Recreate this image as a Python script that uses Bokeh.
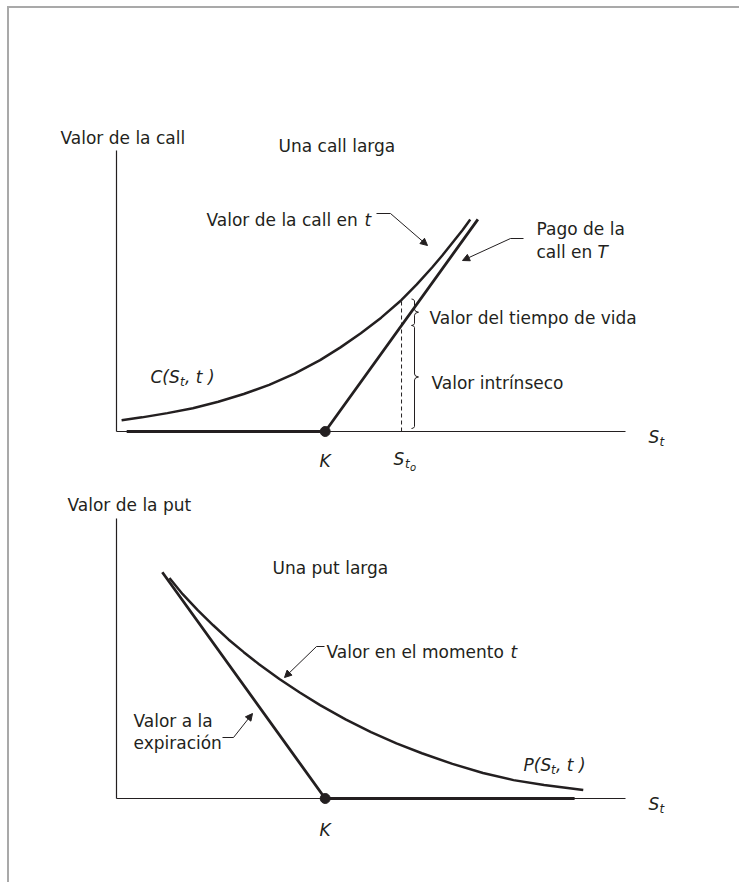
from bokeh.plotting import figure
from bokeh.models import Label, Arrow, NormalHead, LinearAxis, FixedTicker, Range1d
from bokeh.layouts import column
from bokeh.embed import file_html
from bokeh.resources import INLINE

# ---------------- data ----------------
K = 41            # strike
S_T0 = 56         # S_{t_o}
AXIS_X_END = 100
CALL_AXIS_TOP = 39.7
PUT_AXIS_TOP = 39.6

call_S = [1, 5, 10, 15, 20, 25, 30, 35, 40, 44, 48, 52, 56, 59, 62, 64, 66, 68, 69.5]
call_C = [1.6, 2.0, 2.6, 3.3, 4.2, 5.3, 6.6, 8.2, 10.1, 11.9, 13.9, 16.1, 18.6, 20.8,
          23.2, 24.9, 26.7, 28.5, 30.0]
call_pay_S = [2, 41, 71]
call_pay_V = [0, 0, 30]

put_S = [10.4, 13, 16, 19, 22, 25, 28, 32, 36, 40, 45, 50, 55, 60, 66, 72, 78, 84, 91.7]
put_P = [31.2, 28.9, 26.6, 24.5, 22.5, 20.7, 19.0, 16.9, 15.0, 13.2, 11.2, 9.4, 7.8, 6.4,
         4.9, 3.6, 2.6, 1.9, 1.2]
put_pay_S = [9, 41, 90]
put_pay_V = [32, 0, 0]

# ---------------- style / layout ----------------
INK = "#231f20"
FONT = "DejaVu Sans"
W = 730
H1, H2 = 470, 404
SX, SY = 5.09, 7.07        # px per data unit
X0 = 116                   # page x of S = 0
OX, OY = 9, 8              # page origin of the figures


def make_fig(top, height, y0):
    p = figure(width=W, height=height, output_backend="svg", toolbar_location=None,
               x_axis_location=None, y_axis_location=None, min_border=0,
               x_range=Range1d((OX - X0) / SX, (OX + W - X0) / SX),
               y_range=Range1d((y0 - (top + height)) / SY, (y0 - top) / SY),
               background_fill_color="white", border_fill_color="white",
               outline_line_color=None)
    p.grid.visible = False
    gx = lambda px: (px - X0) / SX
    gy = lambda py: (y0 - py) / SY
    return p, gx, gy


def axes(p, ytop):
    common = dict(fixed_location=0, ticker=FixedTicker(ticks=[]), axis_line_color=INK,
                  axis_line_width=1.2, major_tick_line_color=None,
                  minor_tick_line_color=None, major_label_text_font_size="0px")
    p.add_layout(LinearAxis(bounds=(0, AXIS_X_END), **common), "below")
    p.add_layout(LinearAxis(bounds=(0, ytop), **common), "left")


def txt(p, x, y, s, size=17, italic=False, align="left"):
    p.add_layout(Label(x=x, y=y, text=s, text_font=FONT, text_font_size=f"{size}px",
                       text_font_style="italic" if italic else "normal",
                       text_color=INK, text_align=align, text_baseline="alphabetic"))


def leader(p, gx, gy, hx0, hx1, hy, ax, ay):
    p.line([gx(hx0), gx(hx1)], [gy(hy), gy(hy)], line_color=INK, line_width=1)
    p.add_layout(Arrow(end=NormalHead(size=7, fill_color=INK, line_color=INK, line_width=1),
                       x_start=gx(hx1), y_start=gy(hy), x_end=gx(ax), y_end=gy(ay),
                       line_color=INK, line_width=1))


def brace(p, gx, gy, xpx, ytop, ybot):
    pt, pb = ytop, ybot
    pm = (pt + pb) / 2
    xs = [xpx - 3, xpx - 1, xpx, xpx, xpx + 1, xpx + 4, xpx + 1, xpx, xpx, xpx - 1, xpx - 3]
    ys = [pt, pt + 0.5, pt + 2, pm - 3, pm - 1, pm, pm + 1, pm + 3, pb - 2, pb - 0.5, pb]
    p.line([gx(v) for v in xs], [gy(v) for v in ys], line_color=INK, line_width=1)
    return pm


# ================= top: long call =================
Y0_TOP = 431
p1, gx1, gy1 = make_fig(OY, H1, Y0_TOP)
axes(p1, CALL_AXIS_TOP)
py1 = lambda v: Y0_TOP - v * SY   # data -> page y

p1.line(call_pay_S, call_pay_V, line_color=INK, line_width=2.8)
p1.line(call_S, call_C, line_color=INK, line_width=2.5)
p1.scatter([K], [0], size=10, color=INK)

c_at = call_C[call_S.index(S_T0)]
pay_at = S_T0 - K
p1.segment(x0=[S_T0], y0=[0], x1=[S_T0], y1=[c_at], line_color=INK, line_width=1,
           line_dash="4 3")

bx = 414
pm1 = brace(p1, gx1, gy1, bx, py1(c_at) - 1, py1(pay_at))
pm2 = brace(p1, gx1, gy1, bx, py1(pay_at), py1(0) - 3)

txt(p1, gx1(60), gy1(137), "Valor de la call")
txt(p1, gx1(278), gy1(145), "Una call larga")
txt(p1, gx1(206), gy1(219), "Valor de la call en ")
txt(p1, gx1(364), gy1(219), "t", italic=True)
leader(p1, gx1, gy1, 376, 390, 213, 427, 245)
txt(p1, gx1(536), gy1(228), "Pago de la")
txt(p1, gx1(536), gy1(251), "call en ")
txt(p1, gx1(597), gy1(251), "T", italic=True)
leader(p1, gx1, gy1, 523, 510, 238, 462, 260)
txt(p1, gx1(429), gy1(pm1 + 6), "Valor del tiempo de vida")
txt(p1, gx1(431), gy1(pm2 + 6), "Valor intrínseco")
# C(S_t, t )
txt(p1, gx1(150), gy1(376), "C(S", italic=True)
txt(p1, gx1(179.5), gy1(381), "t", size=12, italic=True)
txt(p1, gx1(184.5), gy1(376), ", t )", italic=True)
# K and S_to
txt(p1, K, gy1(460), "K", italic=True, align="center")
txt(p1, gx1(393), gy1(458), "S", italic=True)
txt(p1, gx1(404.5), gy1(463), "t", size=12, italic=True)
txt(p1, gx1(409.5), gy1(467), "o", size=10, italic=True)
# S_t axis label
txt(p1, gx1(648), gy1(436), "S", italic=True)
txt(p1, gx1(659), gy1(441), "t", size=12, italic=True)

# ================= bottom: long put =================
Y0_BOT = 798
TOP2 = OY + H1
p2, gx2, gy2 = make_fig(TOP2, H2, Y0_BOT)
axes(p2, PUT_AXIS_TOP)

p2.line(put_pay_S, put_pay_V, line_color=INK, line_width=2.8)
p2.line(put_S, put_P, line_color=INK, line_width=2.5)
p2.scatter([K], [0], size=10, color=INK)

txt(p2, gx2(67), gy2(504), "Valor de la put")
txt(p2, gx2(272), gy2(567), "Una put larga")
txt(p2, gx2(326), gy2(651), "Valor en el momento ")
txt(p2, gx2(510), gy2(651), "t", italic=True)
leader(p2, gx2, gy2, 324, 316, 646, 284, 677)
txt(p2, gx2(133), gy2(720), "Valor a la")
txt(p2, gx2(133), gy2(742), "expiración")
leader(p2, gx2, gy2, 222, 233, 737, 252, 713)
# P(S_t, t )
txt(p2, gx2(523), gy2(764), "P(S", italic=True)
txt(p2, gx2(550.5), gy2(769), "t", size=12, italic=True)
txt(p2, gx2(555.5), gy2(764), ", t )", italic=True)
txt(p2, K, gy2(829), "K", italic=True, align="center")
txt(p2, gx2(648), gy2(803), "S", italic=True)
txt(p2, gx2(659), gy2(808), "t", size=12, italic=True)

layout = column(p1, p2, spacing=0,
                styles={"border-top": "2px solid #a9a9a9", "border-left": "2px solid #a9a9a9",
                        "margin-left": "7px", "margin-top": "6px"})

open("out.html", "w").write(file_html(layout, INLINE))
